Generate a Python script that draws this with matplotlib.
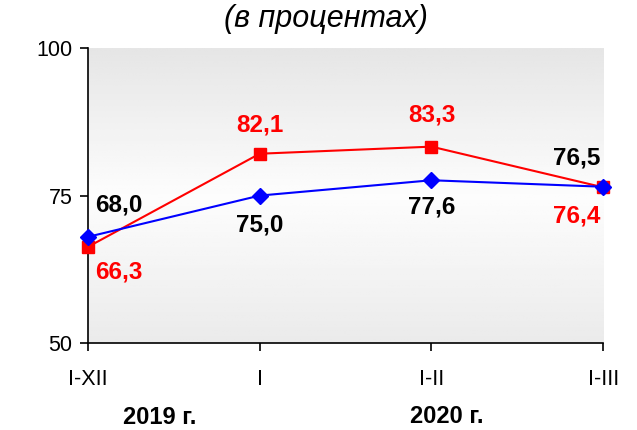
import numpy as np
import matplotlib
matplotlib.use('Agg')
from matplotlib import pyplot as plt

plt.rcParams['font.family'] = ['Liberation Sans', 'DejaVu Sans']

categories = ['I-XII', 'I', 'I-II', 'I-III']
blue_values = [68.0, 75.0, 77.6, 76.5]
red_values = [66.3, 82.1, 83.3, 76.4]
blue_labels = ['68,0', '75,0', '77,6', '76,5']
red_labels = ['66,3', '82,1', '83,3', '76,4']
year_labels = ['2019 г.', '2020 г.']

fig = plt.figure(figsize=(6.37, 4.30), dpi=100)
ax = fig.add_axes([0.138, 0.2023, 0.809, 0.6857])

x = np.arange(len(categories))

# background gradient: gray at top and bottom, almost white in the middle
grad = np.concatenate([np.linspace(0.90, 0.99, 50), np.linspace(0.99, 0.92, 50)])
grad = np.tile(grad[:, None], (1, 2))
ax.imshow(grad, cmap='gray', vmin=0, vmax=1, aspect='auto',
          extent=[0, 3, 50, 100], origin='upper', zorder=0)

ax.plot(x, red_values, color='#ff0000', lw=1.5, marker='s', ms=8.5,
        zorder=3, clip_on=False)
ax.plot(x, blue_values, color='#0000ff', lw=1.5, marker='D', ms=8.5,
        zorder=4, clip_on=False)

ax.set_xlim(0, 3)
ax.set_ylim(50, 100)
ax.set_yticks([50, 75, 100])
ax.set_xticks(x)
ax.set_xticklabels(categories)
ax.tick_params(axis='both', direction='out', length=6, width=1.2,
               labelsize=15.5, color='black')
ax.tick_params(axis='x', pad=13)
ax.tick_params(axis='y', pad=5)
for s in ['top', 'right']:
    ax.spines[s].set_visible(False)
for s in ['left', 'bottom']:
    ax.spines[s].set_linewidth(1.2)

# data labels
blue_off = [(22, 23), (0, -21), (0, -19), (-19, 21)]
red_off = [(22, -18), (0, 21), (0, 23), (-19, -21)]
for i in range(len(x)):
    ax.annotate(blue_labels[i], (x[i], blue_values[i]), xytext=blue_off[i],
                textcoords='offset points', ha='center', va='center',
                fontsize=17.5, fontweight='bold', color='black',
                annotation_clip=False)
    ax.annotate(red_labels[i], (x[i], red_values[i]), xytext=red_off[i],
                textcoords='offset points', ha='center', va='center',
                fontsize=17.5, fontweight='bold', color='#ff0000',
                annotation_clip=False)

fig.text(0.511, 0.955, '(в процентах)', ha='center', va='center',
         fontsize=22, style='italic')
fig.text(0.251, 0.028, year_labels[0], ha='center', va='center',
         fontsize=17, fontweight='bold')
fig.text(0.702, 0.032, year_labels[1], ha='center', va='center',
         fontsize=17, fontweight='bold')

fig.savefig('out.png', dpi=100)
